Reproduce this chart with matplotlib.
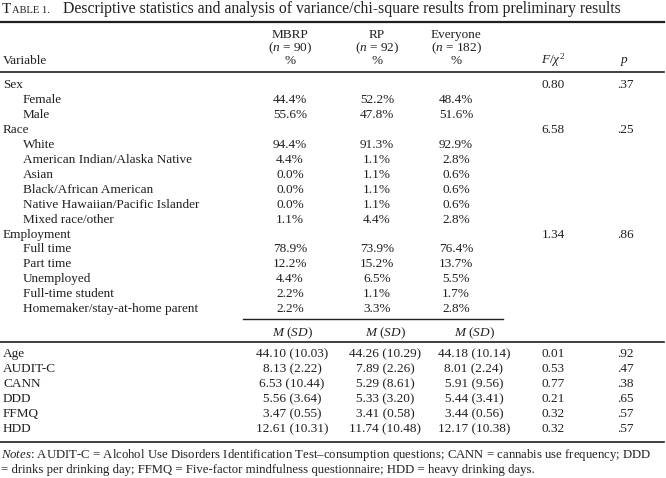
import matplotlib
matplotlib.use("Agg")
import matplotlib.pyplot as plt

plt.rcParams['font.family'] = ['Liberation Serif', 'DejaVu Serif']
plt.rcParams['mathtext.fontset'] = 'custom'
plt.rcParams['mathtext.rm'] = 'Liberation Serif'
plt.rcParams['mathtext.it'] = 'Liberation Serif:italic'

INK = "#231f20"
FS = 9.5

# ---- data ----
groups = ["MBRP", "RP", "Everyone"]
group_n = [90, 92, 182]

sex_labels = ["Female", "Male"]
sex_mbrp = [44.4, 55.6]
sex_rp = [52.2, 47.8]
sex_all = [48.4, 51.6]
sex_stat = ["0.80", ".37"]

race_labels = ["White", "American Indian/Alaska Native", "Asian",
               "Black/African American", "Native Hawaiian/Pacific Islander",
               "Mixed race/other"]
race_mbrp = [94.4, 4.4, 0.0, 0.0, 0.0, 1.1]
race_rp = [91.3, 1.1, 1.1, 1.1, 1.1, 4.4]
race_all = [92.9, 2.8, 0.6, 0.6, 0.6, 2.8]
race_stat = ["6.58", ".25"]

emp_labels = ["Full time", "Part time", "Unemployed", "Full-time student",
              "Homemaker/stay-at-home parent"]
emp_mbrp = [78.9, 12.2, 4.4, 2.2, 2.2]
emp_rp = [73.9, 15.2, 6.5, 1.1, 3.3]
emp_all = [76.4, 13.7, 5.5, 1.7, 2.8]
emp_stat = ["1.34", ".86"]

cont_labels = ["Age", "AUDIT-C", "CANN", "DDD", "FFMQ", "HDD"]
mbrp_m = [44.10, 8.13, 6.53, 5.56, 3.47, 12.61]
mbrp_sd = [10.03, 2.22, 10.44, 3.64, 0.55, 10.31]
rp_m = [44.26, 7.89, 5.29, 5.33, 3.41, 11.74]
rp_sd = [10.29, 2.26, 8.61, 3.20, 0.58, 10.48]
all_m = [44.18, 8.01, 5.91, 5.44, 3.44, 12.17]
all_sd = [10.14, 2.24, 9.56, 3.41, 0.56, 10.38]
f_vals = ["0.01", "0.53", "0.77", "0.21", "0.32", "0.32"]
p_vals = [".92", ".47", ".38", ".65", ".57", ".57"]

title = "Descriptive statistics and analysis of variance/chi-square results from preliminary results"
notes = ["$Notes$: AUDIT-C = Alcohol Use Disorders Identification Test\u2013consumption questions; CANN = cannabis use frequency; DDD",
         "= drinks per drinking day; FFMQ = Five-factor mindfulness questionnaire; HDD = heavy drinking days."]

# ---- layout (pixel coords) ----
fig = plt.figure(figsize=(6.66, 4.78), dpi=100)
ax = fig.add_axes([0, 0, 1, 1])
ax.set_xlim(0, 666)
ax.set_ylim(478, 0)
ax.axis("off")

pct_x = [290, 377, 456]
msd_x = [292, 385, 474]
f_x = 553
p_x = 625
x_var = 3
x_sub = 23


def put(x, y, s, ha="left", size=FS, **kw):
    ax.text(x, y + 4, s, ha=ha, va="baseline", fontsize=size, color=INK, **kw)


# title (small caps label)
ax.text(2, 12.5, "T", fontsize=11, color=INK, va="baseline")
ax.text(11.8, 12.5, "ABLE 1.", fontsize=7.6, color=INK, va="baseline")
ax.text(63, 12.5, title, fontsize=11.3, color=INK, va="baseline")

ax.plot([0, 664], [22, 22], color=INK, lw=1.6)

for i, g in enumerate(groups):
    put(pct_x[i], 34, g, ha="center")
    put(pct_x[i], 47, "($n$ = %d)" % group_n[i], ha="center")
    put(pct_x[i], 60, "%", ha="center")
put(x_var, 60, "Variable")
put(f_x, 60, r"$F$/$\chi^2$", ha="center")
put(p_x, 59, "$p$", ha="center")

ax.plot([0, 664], [72, 72], color=INK, lw=1.2)

row = 0
y0 = 84
step = 14.95
blocks = [("Sex", sex_labels, sex_mbrp, sex_rp, sex_all, sex_stat),
          ("Race", race_labels, race_mbrp, race_rp, race_all, race_stat),
          ("Employment", emp_labels, emp_mbrp, emp_rp, emp_all, emp_stat)]
for name, labels, a, b, c, stat in blocks:
    y = y0 + row * step
    put(x_var, y, name)
    put(f_x, y, stat[0], ha="center")
    put(p_x, y, stat[1], ha="center")
    row += 1
    for j, lab in enumerate(labels):
        y = y0 + row * step
        put(x_sub, y, lab)
        for k, v in enumerate([a[j], b[j], c[j]]):
            put(pct_x[k], y, "%.1f%%" % v, ha="center")
        row += 1

ax.plot([243, 503], [319, 319], color=INK, lw=1.0)
for k in range(3):
    put(msd_x[k], 332, "$M$ ($SD$)", ha="center")
ax.plot([0, 664], [342, 342], color=INK, lw=1.2)

for i, lab in enumerate(cont_labels):
    y = 353 + i * 15
    put(x_var, y, lab)
    cells = [(mbrp_m[i], mbrp_sd[i]), (rp_m[i], rp_sd[i]), (all_m[i], all_sd[i])]
    for k, (m, sd) in enumerate(cells):
        put(msd_x[k], y, "%.2f (%.2f)" % (m, sd), ha="center")
    put(f_x, y, f_vals[i], ha="center")
    put(p_x, y, p_vals[i], ha="center")

ax.plot([0, 664], [442, 442], color=INK, lw=1.2)

put(1, 454, notes[0], size=9.2)
put(1, 469, notes[1], size=9.2)

fig.savefig("out.png", dpi=100)
